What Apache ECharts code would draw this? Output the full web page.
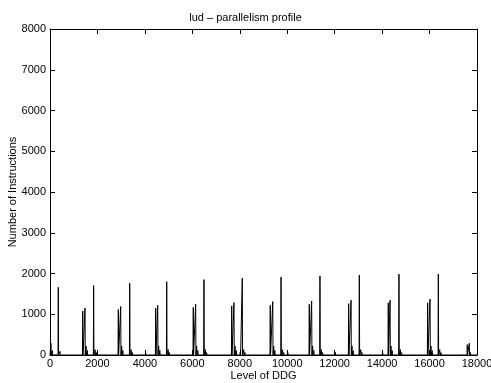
<!DOCTYPE html>
<html>
<head>
<meta charset="utf-8">
<script src="https://cdn.jsdelivr.net/npm/echarts@6/dist/echarts.min.js"></script>
<style>
  html, body { margin: 0; padding: 0; background: #fff; }
  #chart { width: 491px; height: 383px; }
</style>
</head>
<body>
<div id="chart"></div>
<script>
// main spikes: level of DDG -> number of instructions
const spikeLevels = [40, 350,
  1380, 1475, 1840,
  2880, 2980, 3360,
  4455, 4540, 4920,
  6040, 6140, 6490,
  7660, 7755, 8105,
  9285, 9390, 9740,
  10930, 11030, 11380,
  12590, 12690, 13040,
  14260, 14335, 14710,
  15920, 16020, 16370,
  17590, 17675]
const spikeCounts = [290, 1660,
  1080, 1150, 1705,
  1115, 1190, 1760,
  1150, 1220, 1800,
  1170, 1245, 1850,
  1205, 1285, 1885,
  1220, 1310, 1910,
  1245, 1325, 1940,
  1260, 1345, 1960,
  1280, 1345, 1985,
  1280, 1370, 1985,
  255, 290]

// small bumps near the base
const bumpLevels = [100, 420,
  1520, 1570, 1900, 1950,
  3020, 3070, 3420, 3470,
  4030,
  4580, 4630, 4980, 5030,
  6180, 6230, 6550, 6600,
  7800, 7850, 8020, 8165, 8215,
  9430, 9480, 9800, 9850, 10020,
  11070, 11120, 11440, 11490,
  12020,
  12730, 12780, 13100, 13150,
  14020,
  14375, 14425, 14770, 14820,
  16060, 16110, 16430, 16480,
  17720]
const bumpCounts = [110, 90,
  220, 110, 130, 60,
  220, 110, 130, 60,
  60,
  220, 110, 130, 60,
  220, 110, 130, 60,
  220, 110, 70, 130, 60,
  220, 110, 130, 60, 70,
  220, 110, 130, 60,
  70,
  220, 110, 130, 60,
  70,
  220, 110, 130, 60,
  220, 110, 130, 60,
  60]

const xTicks = [0, 2000, 4000, 6000, 8000, 10000, 12000, 14000, 16000, 18000]
const yTicks = [0, 1000, 2000, 3000, 4000, 5000, 6000, 7000, 8000]

const pts = []
const addPeak = (l, c, w) => { pts.push([l - w, 0], [l, c], [l + w, 0]) }
spikeLevels.forEach((l, i) => addPeak(l, spikeCounts[i], 12))
bumpLevels.forEach((l, i) => addPeak(l, bumpCounts[i], 15))
pts.sort((a, b) => a[0] - b[0])
const data = [[0, 0], ...pts, [18000, 0]]

const font = 'Liberation Sans, Arial, Helvetica, sans-serif'
const plain = v => String(v)
const axisBase = {
  type: 'value',
  axisLine: { show: true, onZero: false, lineStyle: { color: '#000', width: 1 } },
  axisTick: { show: true, inside: true, length: 5, lineStyle: { color: '#000' } },
  splitLine: { show: false },
}

const chart = echarts.init(document.getElementById('chart'), null, { renderer: 'canvas' })
chart.setOption({
  animation: false,
  backgroundColor: '#fff',
  title: {
    text: 'lud \u2013 parallelism profile',
    left: 'center', top: 7,
    textStyle: { fontFamily: font, fontSize: 11, fontWeight: 'normal', color: '#000' },
  },
  grid: { left: 50, right: 14, top: 29, bottom: 28, containLabel: false, outerBoundsMode: 'none' },
  xAxis: [
    {
      ...axisBase,
      min: 0, max: xTicks[xTicks.length - 1], interval: 2000,
      name: 'Level of DDG', nameLocation: 'middle', nameGap: 15, nameMoveOverlap: false,
      nameTextStyle: { fontFamily: font, fontSize: 11, color: '#000' },
      axisLabel: { fontFamily: font, fontSize: 11, color: '#000', margin: 3, formatter: plain },
    },
    {
      ...axisBase, position: 'top',
      min: 0, max: 18000, interval: 2000,
      axisLabel: { show: false },
    },
  ],
  yAxis: [
    {
      ...axisBase,
      min: 0, max: yTicks[yTicks.length - 1], interval: 1000,
      name: 'Number of Instructions', nameLocation: 'middle', nameGap: 32, nameMoveOverlap: false,
      nameTextStyle: { fontFamily: font, fontSize: 11, color: '#000' },
      axisLabel: { fontFamily: font, fontSize: 11, color: '#000', margin: 4, formatter: plain },
    },
    {
      ...axisBase, position: 'right',
      min: 0, max: 8000, interval: 1000,
      axisLabel: { show: false },
    },
  ],
  series: [
    {
      type: 'line', data, xAxisIndex: 0, yAxisIndex: 0,
      showSymbol: false, symbol: 'none',
      lineStyle: { color: '#000', width: 1 },
    },
  ],
})
</script>
</body>
</html>
